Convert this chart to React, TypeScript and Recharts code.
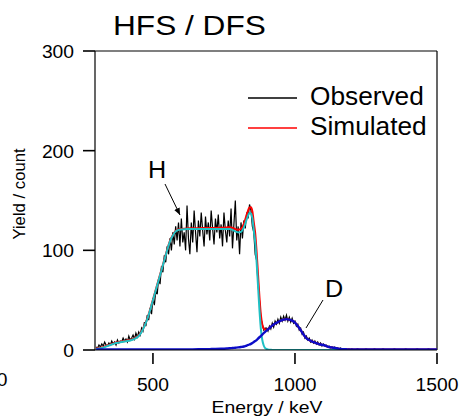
import React from "react";
import { LineChart, Line, XAxis, YAxis, ReferenceLine } from "recharts";

// observed spectrum: 5 keV channels from 300 keV, then 10 keV channels from 1200 keV
const obsMain = [
  3, 2, 5, 3, 6, 4, 8, 5, 4, 7, 5, 9, 6, 8, 5, 10, 7, 9, 8, 12, 9, 11, 8, 14, 10, 12, 15, 11, 17, 13,
  18, 15, 22, 19, 28, 24, 35, 30, 42, 36, 52, 45, 60, 56, 72, 66, 84, 78, 95, 88, 104, 96, 112, 100, 118, 106, 124, 110, 128, 104,
  132, 108, 118, 100, 145, 112, 96, 128, 108, 140, 118, 98, 130, 114, 138, 120, 104, 134, 116, 128, 110, 140, 122, 106, 132, 118, 136, 112, 126, 104,
  138, 120, 108, 130, 114, 142, 102, 126, 150, 110, 124, 96, 128, 112, 130, 122, 138, 132, 146, 140, 124, 118, 96, 90, 66, 50, 32, 26, 20, 22,
  22, 19, 24, 21, 27, 23, 29, 26, 31, 27, 33, 29, 34, 30, 35, 29, 33, 28, 32, 27, 29, 24, 26, 20, 22, 16, 18, 12, 14, 10,
  12, 8, 10, 7, 9, 6, 8, 5, 7, 4, 6, 4, 5, 3, 4, 2, 3, 2, 3, 1, 2, 1, 2, 1, 1, 0, 1, 0, 1, 0,
];
const obsTail = [1, 0, 1, 0, 0, 1, 0, 0, 1, 0, 0, 1, 0, 0, 0, 1, 0, 0, 0, 1, 0, 0, 0, 1, 0, 0, 0, 1, 0, 0, 0];

const modelEnergy = [
  300, 310, 320, 330, 340, 350, 360, 370, 380, 390, 400, 410, 420, 430, 440, 450, 460, 470, 480, 490,
  500, 510, 520, 530, 540, 550, 560, 570, 580, 590, 600,
  620, 640, 660, 680, 700, 720, 740, 760,
  770, 780, 790, 800, 810, 820, 830, 840,
  845, 850, 855, 860, 865, 870, 875, 880, 885, 890, 895, 900, 905, 910,
  920, 930, 940, 950, 960, 970, 980, 990, 1000, 1010, 1020, 1030, 1040, 1050, 1060, 1070, 1080, 1090, 1100,
  1110, 1120, 1130, 1140, 1150, 1160,
  1180, 1200, 1300, 1400, 1500,
];
const simH = [
  1, 1.5, 2, 3, 4, 5, 6, 7, 7.5, 8, 8.5, 9, 9.5, 10.5, 12, 14, 18, 24, 31, 40,
  50, 60, 70, 80, 90, 100, 109, 115, 119, 120.5, 121,
  121.5, 121.5, 121.5, 121.5, 121.5, 121.5, 121.5, 121.5,
  121.5, 120.5, 119, 118, 118.5, 123, 131, 137.5,
  137, 132, 120, 108, 88, 64, 40, 21, 10, 4.5, 2, 1, 0.5, 0.2,
  0.1, 0, 0, 0, 0, 0, 0, 0, 0, 0, 0, 0, 0, 0, 0, 0, 0, 0, 0,
  0, 0, 0, 0, 0, 0,
  0, 0, 0, 0, 0,
];
const simD = [
  0.5, 0.5, 0.5, 0.5, 0.5, 0.5, 0.5, 0.5, 0.5, 0.5, 0.5, 0.5, 0.5, 0.5, 0.5, 0.5, 0.5, 0.5, 0.5, 0.5,
  0.5, 0.5, 0.5, 0.5, 0.5, 0.5, 0.5, 0.5, 0.5, 0.5, 0.5,
  0.5, 0.6, 0.7, 0.8, 0.9, 1, 1.2, 1.5,
  1.7, 2, 2.3, 2.6, 3, 3.5, 4.5, 5.5,
  6.2, 7, 8, 9, 10, 11.5, 12.8, 14, 15.5, 17, 18.2, 19.5, 20.8, 22,
  24.5, 26.5, 28, 29.5, 30.5, 31, 30.5, 29.5, 27.5, 24, 20, 15.5, 12, 10, 8.5, 7.5, 6.5, 5.5, 5,
  4, 3, 2.5, 2, 1.5, 1,
  0.7, 0.5, 0.5, 0.5, 0.5,
];
const simTotal = [
  1.5, 2, 2.5, 3.5, 4.5, 5.5, 6.5, 7.5, 8, 8.5, 9, 9.5, 10, 11, 12.5, 14.5, 18.5, 24.5, 31.5, 40.5,
  50.5, 60.5, 70.5, 80.5, 90.5, 100.5, 109.5, 115.5, 119.5, 121, 121.5,
  122, 122.1, 122.2, 122.3, 122.4, 122.5, 122.7, 123,
  123.2, 122.5, 121.3, 120.6, 121.5, 126.5, 135.5, 143,
  143.2, 139, 128, 117, 98, 75.5, 52.8, 35, 25.5, 21.5, 20.2, 20.5, 21.3, 22.2,
  24.5, 26.5, 28, 29.5, 30.5, 31, 30.5, 29.5, 27.5, 24, 20, 15.5, 12, 10, 8.5, 7.5, 6.5, 5.5, 5,
  4, 3, 2.5, 2, 1.5, 1,
  0.7, 0.5, 0.5, 0.5, 0.5,
];

const xTicks = [500, 1000, 1500];
const yTicks = [0, 100, 200, 300];

const X_MIN = 296;
const X_MAX = 1500;
const Y_MAX = 300;
// plot box in page pixels (matches the chart margins below)
const BOX = { left: 95, right: 437, top: 51, bottom: 350 };
const FONT = '"Liberation Sans", Arial, Helvetica, sans-serif';
const CYAN = "#1fc0c4";
const BLUE = "#0c0cc8";
const RED = "#ff0000";

const observed = [
  ...obsMain.map((v, i) => ({ e: 300 + 5 * i, v })),
  ...obsTail.map((v, i) => ({ e: 1200 + 10 * i, v })),
];
const toSeries = (ys: number[]) => modelEnergy.map((e, i) => ({ e, v: ys[i] }));

function XTick(props: any) {
  const { x, y, payload } = props;
  return (
    <text
      transform={`translate(${x},${y + 25}) scale(1.07,1)`}
      textAnchor="middle"
      fontFamily={FONT}
      fontSize={18}
      fill="#000"
    >
      {payload.value}
    </text>
  );
}

function YTick(props: any) {
  const { x, y, payload } = props;
  return (
    <text
      transform={`translate(${x - 7},${y + 7}) scale(1.07,1)`}
      textAnchor="end"
      fontFamily={FONT}
      fontSize={18}
      fill="#000"
    >
      {payload.value}
    </text>
  );
}

function Annotations() {
  const legend = [
    { name: "Observed", color: "#000", y: 98 },
    { name: "Simulated", color: RED, y: 128 },
  ];
  const px = (v: number) => BOX.left + ((v - X_MIN) / (X_MAX - X_MIN)) * (BOX.right - BOX.left);
  const py = (v: number) => BOX.bottom - (v / Y_MAX) * (BOX.bottom - BOX.top);
  return (
    <svg
      width={459}
      height={416}
      style={{ position: "absolute", left: 0, top: 0, pointerEvents: "none" }}
      fontFamily={FONT}
    >
      <defs>
        <marker id="ah" markerWidth="8" markerHeight="8" refX="7" refY="4" orient="auto">
          <path d="M0,1 L7,4 L0,7 Z" fill="#000" />
        </marker>
      </defs>
      {/* outward tick marks; the x ticks start a little below the axis */}
      {xTicks.map((t) => (
        <line key={`xt${t}`} x1={px(t)} x2={px(t)} y1={BOX.bottom + 3} y2={BOX.bottom + 14} stroke="#000" strokeWidth={1.6} />
      ))}
      {yTicks.map((t) => (
        <line key={`yt${t}`} x1={BOX.left - 12} x2={BOX.left} y1={py(t)} y2={py(t)} stroke="#000" strokeWidth={1.6} />
      ))}
      <text transform="translate(113,35) scale(1.13,1)" fontSize={28}>
        HFS / DFS
      </text>
      <text transform="translate(25,194) rotate(-90)" textAnchor="middle" fontSize={16.7}>
        Yield / count
      </text>
      <text transform="translate(267,413) scale(1.14,1)" textAnchor="middle" fontSize={17}>
        Energy / keV
      </text>
      <text transform="translate(2,386) scale(1.07,1)" textAnchor="middle" fontSize={18}>
        0
      </text>
      {legend.map((l) => (
        <g key={l.name}>
          <line x1={248} x2={297} y1={l.y} y2={l.y} stroke={l.color} strokeWidth={1.5} />
          <text transform={`translate(310,${l.y + 7}) scale(1.05,1)`} fontSize={25}>
            {l.name}
          </text>
        </g>
      ))}
      <text transform="translate(148,178) scale(1.05,1)" fontSize={24}>
        H
      </text>
      <line x1={165} y1={184} x2={180} y2={215} stroke="#000" strokeWidth={1} markerEnd="url(#ah)" />
      <text transform="translate(325,297) scale(1.05,1)" fontSize={24}>
        D
      </text>
      <line x1={323} y1={300} x2={306} y2={328} stroke="#000" strokeWidth={1} />
    </svg>
  );
}

export default function App() {
  return (
    <div style={{ position: "absolute", left: 0, top: 0, width: 459, height: 416 }}>
      <LineChart
        width={459}
        height={416}
        margin={{ top: BOX.top, right: 459 - BOX.right, bottom: 0, left: 0 }}
      >
        <XAxis
          type="number"
          dataKey="e"
          domain={[X_MIN, X_MAX]}
          ticks={xTicks}
          allowDataOverflow
          height={416 - BOX.bottom}
          tickSize={14}
          tickLine={false}
          axisLine={{ stroke: "#000", strokeWidth: 1.2 }}
          tick={<XTick />}
        />
        <YAxis
          type="number"
          domain={[0, Y_MAX]}
          ticks={yTicks}
          allowDataOverflow
          width={BOX.left}
          tickSize={12}
          tickLine={false}
          axisLine={{ stroke: "#000", strokeWidth: 1.2 }}
          tick={<YTick />}
        />
        <ReferenceLine y={Y_MAX} stroke="#000" strokeWidth={1.2} />
        <ReferenceLine x={X_MAX} stroke="#000" strokeWidth={1.2} />
        <Line
          data={observed}
          dataKey="v"
          name="Observed"
          type="linear"
          stroke="#000"
          strokeWidth={1.2}
          dot={false}
          isAnimationActive={false}
        />
        <Line
          data={toSeries(simTotal)}
          dataKey="v"
          name="Simulated"
          type="monotone"
          stroke={RED}
          strokeWidth={2}
          dot={false}
          isAnimationActive={false}
        />
        <Line
          data={toSeries(simH)}
          dataKey="v"
          name="H"
          type="monotone"
          stroke={CYAN}
          strokeWidth={2}
          dot={false}
          isAnimationActive={false}
        />
        <Line
          data={toSeries(simD)}
          dataKey="v"
          name="D"
          type="monotone"
          stroke={BLUE}
          strokeWidth={2.4}
          dot={false}
          isAnimationActive={false}
        />
      </LineChart>
      <Annotations />
    </div>
  );
}
